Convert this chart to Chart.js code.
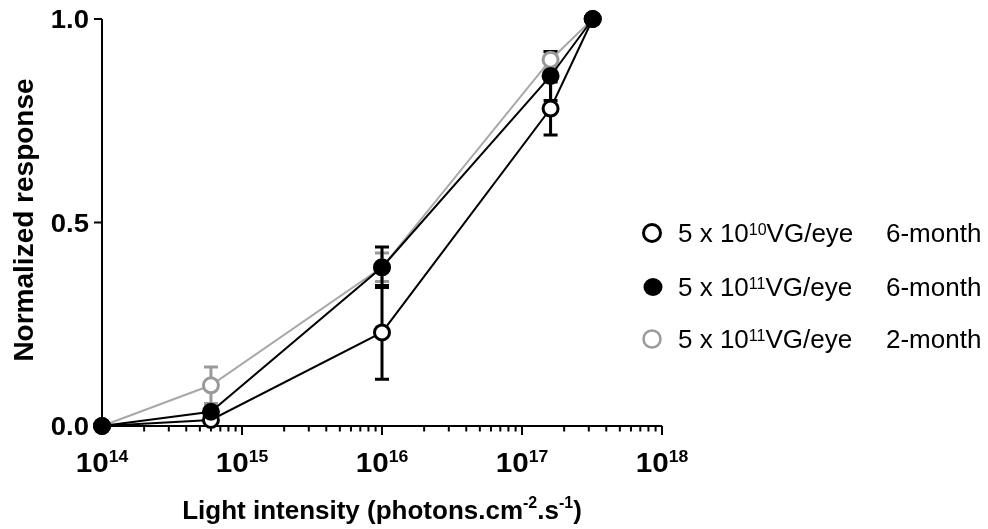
<!DOCTYPE html>
<html>
<head>
<meta charset="utf-8">
<script src="https://cdn.jsdelivr.net/npm/chart.js@4/dist/chart.umd.min.js"></script>
<style>
  html, body { margin: 0; padding: 0; background: #fff; }
  canvas { display: block; }
</style>
</head>
<body>
<canvas id="c" width="988" height="529"></canvas>
<script>
// ---- data ----
const xValues = [1e14, 6e14, 1e16, 1.6e17, 3.2e17];
const open6Month = [0, 0.015, 0.23, 0.78, 1.0];
const open6MonthErr = [0, 0, 0.115, 0.065, 0];
const filled6Month = [0, 0.035, 0.39, 0.86, 1.0];
const filled6MonthErr = [0, 0, 0.05, 0.06, 0];
const gray2Month = [0, 0.10, 0.39, 0.90, 1.0];
const gray2MonthErr = [0, 0.045, 0.035, 0.02, 0];

const yTickValues = [0, 0.5, 1.0];
const yTickLabels = ['0.0', '0.5', '1.0'];
const xTickValues = [1e14, 1e15, 1e16, 1e17, 1e18];
const xTickBase = '10';
const xTickExponents = ['14', '15', '16', '17', '18'];

const legendRows = [
  { exp: '10', pre: '5 x 10', post: 'VG/eye', age: '6-month', style: 'open' },
  { exp: '11', pre: '5 x 10', post: 'VG/eye', age: '6-month', style: 'filled' },
  { exp: '11', pre: '5 x 10', post: 'VG/eye', age: '2-month', style: 'gray' }
];

const GRAY = '#9a9a9a';
const GRAY_LINE = '#a8a8a8';

function pts(ys) { return xValues.map((x, i) => ({ x: x, y: ys[i] })); }

const errorSets = [
  { values: gray2Month, errs: gray2MonthErr, color: GRAY },
  { values: open6Month, errs: open6MonthErr, color: '#000' },
  { values: filled6Month, errs: filled6MonthErr, color: '#000' }
];

function drawRuns(ctx, x, y, runs, align, stretch) {
  stretch = stretch || 1;
  let total = 0;
  runs.forEach(r => { ctx.font = r.font; r.w = ctx.measureText(r.text).width * stretch; total += r.w; });
  let cx = x;
  if (align === 'center') cx = x - total / 2;
  else if (align === 'right') cx = x - total;
  runs.forEach(r => {
    ctx.save();
    ctx.font = r.font;
    ctx.textAlign = 'left';
    ctx.textBaseline = 'alphabetic';
    ctx.translate(cx, y + (r.dy || 0));
    ctx.scale(stretch, 1);
    ctx.fillStyle = r.color || '#000';
    ctx.fillText(r.text, 0, 0);
    ctx.restore();
    cx += r.w;
  });
}

const FONT = '"Liberation Sans", Arial, sans-serif';

const decor = {
  id: 'decor',
  beforeDatasetsDraw(chart) {
    const ctx = chart.ctx;
    const xs = chart.scales.x, ys = chart.scales.y;
    const a = chart.chartArea;
    ctx.save();
    // axes
    ctx.strokeStyle = '#000';
    ctx.lineWidth = 2;
    ctx.beginPath();
    ctx.moveTo(a.left, a.top);
    ctx.lineTo(a.left, a.bottom);
    ctx.lineTo(a.right, a.bottom);
    ctx.stroke();
    // y ticks
    yTickValues.forEach(v => {
      const py = ys.getPixelForValue(v);
      ctx.beginPath();
      ctx.moveTo(a.left - 8, py);
      ctx.lineTo(a.left, py);
      ctx.stroke();
    });
    // x ticks major + minor
    for (let d = 0; d < xTickValues.length; d++) {
      const base = xTickValues[d];
      const px = xs.getPixelForValue(base);
      ctx.beginPath();
      ctx.moveTo(px, a.bottom);
      ctx.lineTo(px, a.bottom + 9);
      ctx.stroke();
      if (d < xTickValues.length - 1) {
        for (let k = 2; k <= 9; k++) {
          const mx = xs.getPixelForValue(base * k);
          ctx.beginPath();
          ctx.moveTo(mx, a.bottom);
          ctx.lineTo(mx, a.bottom + 5.5);
          ctx.stroke();
        }
      }
    }
    // error bars
    errorSets.forEach(s => {
      ctx.strokeStyle = s.color;
      ctx.lineWidth = 3;
      xValues.forEach((xv, i) => {
        const e = s.errs[i];
        if (!e) return;
        const px = xs.getPixelForValue(xv);
        const top = ys.getPixelForValue(s.values[i] + e);
        const bot = ys.getPixelForValue(s.values[i] - e);
        ctx.beginPath();
        ctx.moveTo(px, top); ctx.lineTo(px, bot);
        ctx.moveTo(px - 7, top); ctx.lineTo(px + 7, top);
        ctx.moveTo(px - 7, bot); ctx.lineTo(px + 7, bot);
        ctx.stroke();
      });
    });
    ctx.restore();
  },
  afterDraw(chart) {
    const ctx = chart.ctx;
    const xs = chart.scales.x, ys = chart.scales.y;
    const a = chart.chartArea;
    ctx.save();
    const S = 1.1;
    // y tick labels
    yTickValues.forEach((v, i) => {
      const py = ys.getPixelForValue(v);
      drawRuns(ctx, a.left - 13, py + 9, [{ text: yTickLabels[i], font: 'bold 25px ' + FONT }], 'right', S);
    });
    // x tick labels
    xTickValues.forEach((v, i) => {
      const px = xs.getPixelForValue(v);
      drawRuns(ctx, px, 472, [
        { text: xTickBase, font: 'bold 27px ' + FONT },
        { text: xTickExponents[i], font: 'bold 16px ' + FONT, dy: -10 }
      ], 'center', S);
    });
    // x title
    drawRuns(ctx, 382, 519, [
      { text: 'Light intensity (photons.cm', font: 'bold 26px ' + FONT },
      { text: '-2', font: 'bold 16px ' + FONT, dy: -11 },
      { text: '.s', font: 'bold 26px ' + FONT },
      { text: '-1', font: 'bold 16px ' + FONT, dy: -11 },
      { text: ')', font: 'bold 26px ' + FONT }
    ], 'center', 1);
    // y title
    ctx.save();
    ctx.translate(33, 220);
    ctx.rotate(-Math.PI / 2);
    ctx.font = 'bold 28px ' + FONT;
    ctx.textAlign = 'center';
    ctx.textBaseline = 'alphabetic';
    ctx.fillStyle = '#000';
    ctx.fillText('Normalized response', 0, 0);
    ctx.restore();
    // legend
    const rowY = [233, 287, 339];
    legendRows.forEach((r, i) => {
      const cy = rowY[i];
      ctx.beginPath();
      if (r.style === 'filled') {
        ctx.ellipse(653, cy, 9.5, 9, 0, 0, Math.PI * 2);
        ctx.fillStyle = '#000'; ctx.fill();
      } else {
        ctx.arc(652, cy, 8.5, 0, Math.PI * 2);
        ctx.fillStyle = '#fff'; ctx.fill();
        ctx.lineWidth = r.style === 'open' ? 3 : 2.5;
        ctx.strokeStyle = r.style === 'open' ? '#000' : GRAY;
        ctx.stroke();
      }
      const base = cy + 9;
      drawRuns(ctx, 678, base, [
        { text: r.pre, font: '26px ' + FONT },
        { text: r.exp, font: '16px ' + FONT, dy: -7 },
        { text: r.post, font: '26px ' + FONT }
      ], 'left', 1);
      drawRuns(ctx, 886, base, [{ text: r.age, font: '26px ' + FONT }], 'left', 1);
    });
    ctx.restore();
  }
};

new Chart(document.getElementById('c'), {
  type: 'line',
  data: {
    datasets: [
      {
        label: '5 x 10^11 VG/eye 6-month',
        data: pts(filled6Month),
        borderColor: '#000', borderWidth: 2,
        pointRadius: 9, pointBorderWidth: 0,
        pointBackgroundColor: '#000', pointBorderColor: '#000',
        order: 0, clip: false, tension: 0
      },
      {
        label: '5 x 10^10 VG/eye 6-month',
        data: pts(open6Month),
        borderColor: '#000', borderWidth: 2,
        pointRadius: 7.5, pointBorderWidth: 3,
        pointBackgroundColor: '#fff', pointBorderColor: '#000',
        order: 1, clip: false, tension: 0
      },
      {
        label: '5 x 10^11 VG/eye 2-month',
        data: pts(gray2Month),
        borderColor: GRAY_LINE, borderWidth: 2,
        pointRadius: 7.5, pointBorderWidth: 3,
        pointBackgroundColor: '#fff', pointBorderColor: GRAY,
        order: 2, clip: false, tension: 0
      }
    ]
  },
  options: {
    responsive: false,
    animation: false,
    events: [],
    layout: { padding: { left: 102, right: 326, top: 19, bottom: 103 } },
    scales: {
      x: { type: 'logarithmic', min: 1e14, max: 1e18, display: false },
      y: { type: 'linear', min: 0, max: 1, display: false }
    },
    plugins: { legend: { display: false }, tooltip: { enabled: false } }
  },
  plugins: [decor]
});
</script>
</body>
</html>
